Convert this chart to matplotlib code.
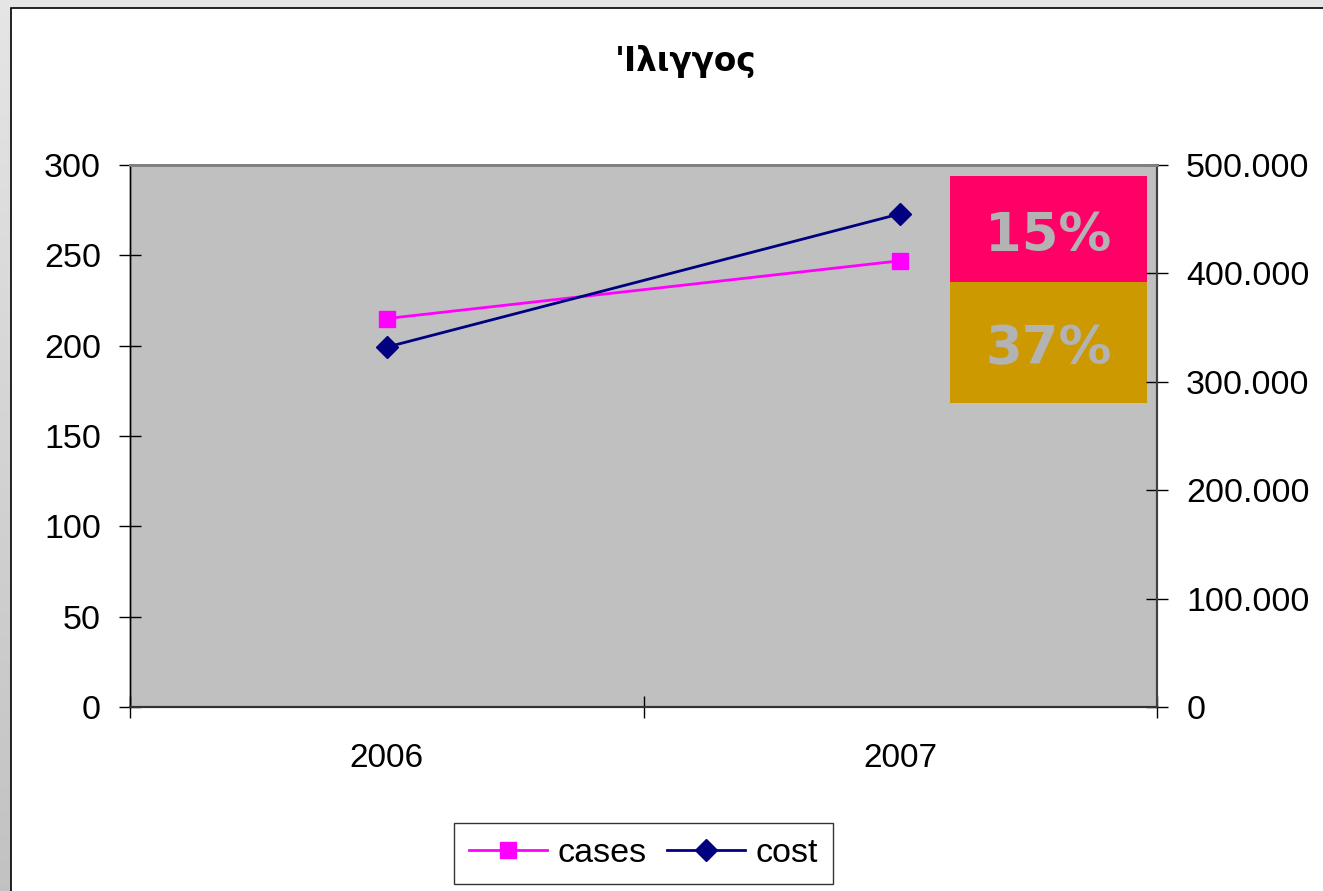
import numpy as np
import matplotlib
matplotlib.use("Agg")
import matplotlib.pyplot as plt
from matplotlib.ticker import FuncFormatter, FixedLocator
from matplotlib.patches import Rectangle

# data
years = ["2006", "2007"]
cases = [215, 247]
cost = [332000, 455000]
growth_labels = ["15%", "37%"]
growth_colors = ["#FF0066", "#CC9900"]
title = "'Ιλιγγος"

plt.rcParams['font.family'] = ['Liberation Sans', 'DejaVu Sans']

W, H = 1323, 891
fig = plt.figure(figsize=(W / 100, H / 100), dpi=100)

# gray slide background with a soft vertical gradient
bg = fig.add_axes([0, 0, 1, 1], zorder=-10)
grad = np.linspace(0.90, 0.76, 256).reshape(-1, 1)
bg.imshow(np.dstack([grad, grad, grad]), aspect='auto', extent=[0, 1, 0, 1])
bg.set_axis_off()
# white chart area with black frame
bg.add_patch(Rectangle((11 / W, -0.1), 1.2, 1 - 8 / H + 0.1, transform=bg.transAxes,
                       facecolor='white', edgecolor='black', lw=1.2, zorder=2))

ax = fig.add_axes([130 / W, (H - 707) / H, 1027 / W, 542 / H])
ax.set_facecolor('#C0C0C0')
ax2 = ax.twinx()

x = np.arange(len(years)) + 0.5
l1, = ax.plot(x, cases, color='#FF00FF', lw=2.0, marker='s', markersize=11.5,
              markeredgecolor='#FF00FF', label='cases', clip_on=False)
l2, = ax2.plot(x, cost, color='#000080', lw=2.0, marker='D', markersize=11.5,
               markeredgecolor='#000080', label='cost', clip_on=False)

ax.set_xlim(0, len(years))
ax.set_ylim(0, 300)
ax2.set_ylim(0, 500000)
ax.set_yticks(np.arange(0, 301, 50))
ax2.set_yticks(np.arange(0, 500001, 100000))
ax2.yaxis.set_major_formatter(FuncFormatter(lambda v, p: f"{int(v):,}".replace(",", ".")))

# category labels on major (no mark), boundary ticks as minor
ax.set_xticks(x)
ax.set_xticklabels(years)
ax.xaxis.set_minor_locator(FixedLocator(np.arange(0, len(years) + 1)))
ax.tick_params(axis='x', which='major', length=0, pad=26, labelsize=24)
ax.tick_params(axis='x', which='minor', direction='inout', length=16, width=1, color='black')
ax.tick_params(axis='y', direction='inout', length=16, width=1, pad=13, labelsize=24.5)
ax2.tick_params(axis='y', direction='inout', length=16, width=1, pad=13, labelsize=24.5)

for a in (ax, ax2):
    a.spines['top'].set_color('#808080')
    a.spines['top'].set_linewidth(2)
    a.spines['left'].set_color('black')
    a.spines['left'].set_linewidth(1)
    a.spines['bottom'].set_color('#333333')
    a.spines['bottom'].set_linewidth(1.5)
    a.spines['right'].set_color('#404040')
    a.spines['right'].set_linewidth(1.5)

# growth boxes
box_x0, box_x1 = 0.7984, 0.9903
box_y = [0.9797, 0.7841, 0.5609]
for i, (lab, col) in enumerate(zip(growth_labels, growth_colors)):
    ax2.add_patch(Rectangle((box_x0, box_y[i + 1]), box_x1 - box_x0, box_y[i] - box_y[i + 1],
                            transform=ax2.transAxes, facecolor=col, edgecolor='none', zorder=1))
    ax2.text((box_x0 + box_x1) / 2, (box_y[i] + box_y[i + 1]) / 2 - 0.012, lab,
             transform=ax2.transAxes, ha='center', va='center', fontsize=38,
             fontweight='bold', color='#B3B3B3', family='DejaVu Sans', zorder=2)

fig.text(686 / W, 1 - 62 / H, title, ha='center', va='center', fontsize=23.5,
         fontweight='bold', family='DejaVu Sans')

leg = fig.legend([l1, l2], ['cases', 'cost'], loc='center',
                 bbox_to_anchor=(643.5 / W, 1 - 853.5 / H), ncol=2, fontsize=24.5,
                 frameon=True, fancybox=False, handlelength=2.3, handletextpad=0.3,
                 columnspacing=0.6, borderpad=0.45, borderaxespad=0)
leg.get_frame().set_edgecolor('black')
leg.get_frame().set_linewidth(1)

fig.savefig('out.png', dpi=100)
